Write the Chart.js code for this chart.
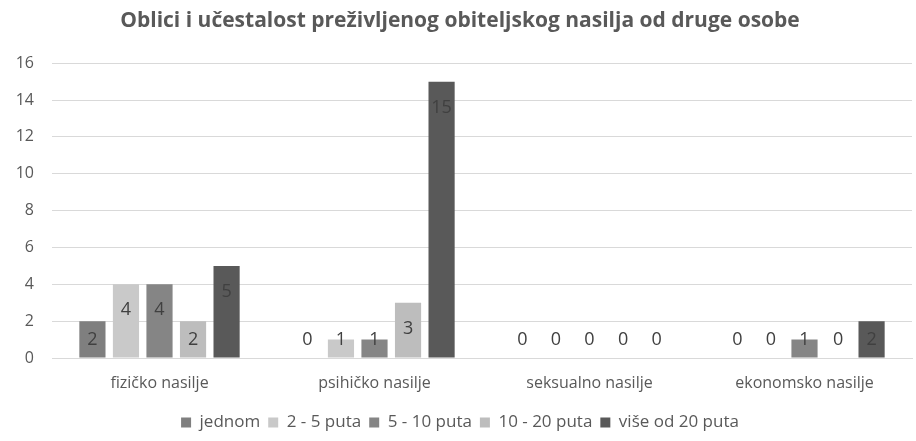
<!DOCTYPE html>
<html>
<head>
<meta charset="utf-8">
<script src="https://cdn.jsdelivr.net/npm/chart.js@4"></script>
<style>
  html, body { margin: 0; padding: 0; background: #fff; }
  #wrap { width: 916px; height: 441px; }
</style>
</head>
<body>
<div id="wrap"><canvas id="chart"></canvas></div>
<script>
// Oblici nasilja i koliko puta
const categories = ['fizičko nasilje', 'psihičko nasilje', 'seksualno nasilje', 'ekonomsko nasilje'];
const seriesNames = ['jednom', '2 - 5 puta', '5 - 10 puta', '10 - 20 puta', 'više od 20 puta'];
const jednom = [2, 0, 0, 0];
const puta2to5 = [4, 1, 0, 0];
const puta5to10 = [4, 1, 0, 1];
const puta10to20 = [2, 3, 0, 0];
const viseOd20 = [5, 15, 0, 2];
const yTicks = [0, 2, 4, 6, 8, 10, 12, 14, 16];

const colors = ['#7f7f7f', '#c9c9c9', '#858585', '#bdbdbd', '#595959'];
const allSeries = [jednom, puta2to5, puta5to10, puta10to20, viseOd20];

const FONT = '"Open Sans", "Liberation Sans", sans-serif';
const TXT = '#595959';

// labels "inside end" like Excel, kept above the axis for short bars
const barLabels = {
  id: 'barLabels',
  afterDatasetsDraw(chart) {
    const ctx = chart.ctx;
    ctx.save();
    ctx.font = '18px ' + FONT;
    ctx.fillStyle = '#404040';
    ctx.textAlign = 'center';
    ctx.textBaseline = 'alphabetic';
    chart.data.datasets.forEach((ds, i) => {
      chart.getDatasetMeta(i).data.forEach((bar, j) => {
        const y = Math.min(bar.y + 31, bar.base - 13);
        ctx.fillText(ds.data[j], bar.x, y);
      });
    });
    ctx.restore();
  }
};

new Chart(document.getElementById('chart'), {
  type: 'bar',
  data: {
    labels: categories,
    datasets: allSeries.map((d, i) => ({
      label: seriesNames[i],
      data: d,
      backgroundColor: colors[i],
      categoryPercentage: 0.78,
      barPercentage: 0.78
    }))
  },
  options: {
    responsive: true,
    maintainAspectRatio: false,
    animation: false,
    layout: { padding: { left: 8, right: 4, top: 0, bottom: 0 } },
    plugins: {
      title: {
        display: true,
        text: 'Oblici i učestalost preživljenog obiteljskog nasilja od druge osobe',
        color: TXT,
        font: { family: FONT, size: 21, weight: 'bold' },
        padding: { top: 8, bottom: 30 }
      },
      legend: {
        position: 'bottom',
        labels: {
          color: TXT,
          font: { family: FONT, size: 17 },
          boxWidth: 10,
          boxHeight: 10,
          padding: 8
        }
      },
      tooltip: { enabled: false }
    },
    scales: {
      x: {
        grid: { display: false },
        border: { color: '#d9d9d9' },
        afterFit(axis) { axis.height = 48; },
        ticks: { color: TXT, font: { family: FONT, size: 16 }, padding: 8 }
      },
      y: {
        min: 0,
        max: 16,
        afterBuildTicks(axis) { axis.ticks = yTicks.map(v => ({ value: v })); },
        afterFit(axis) { axis.width = 44; },
        grid: { color: '#d9d9d9', drawTicks: false },
        border: { display: false },
        ticks: { color: TXT, font: { family: FONT, size: 16 }, padding: 18 }
      }
    }
  },
  plugins: [barLabels]
});
</script>
</body>
</html>
